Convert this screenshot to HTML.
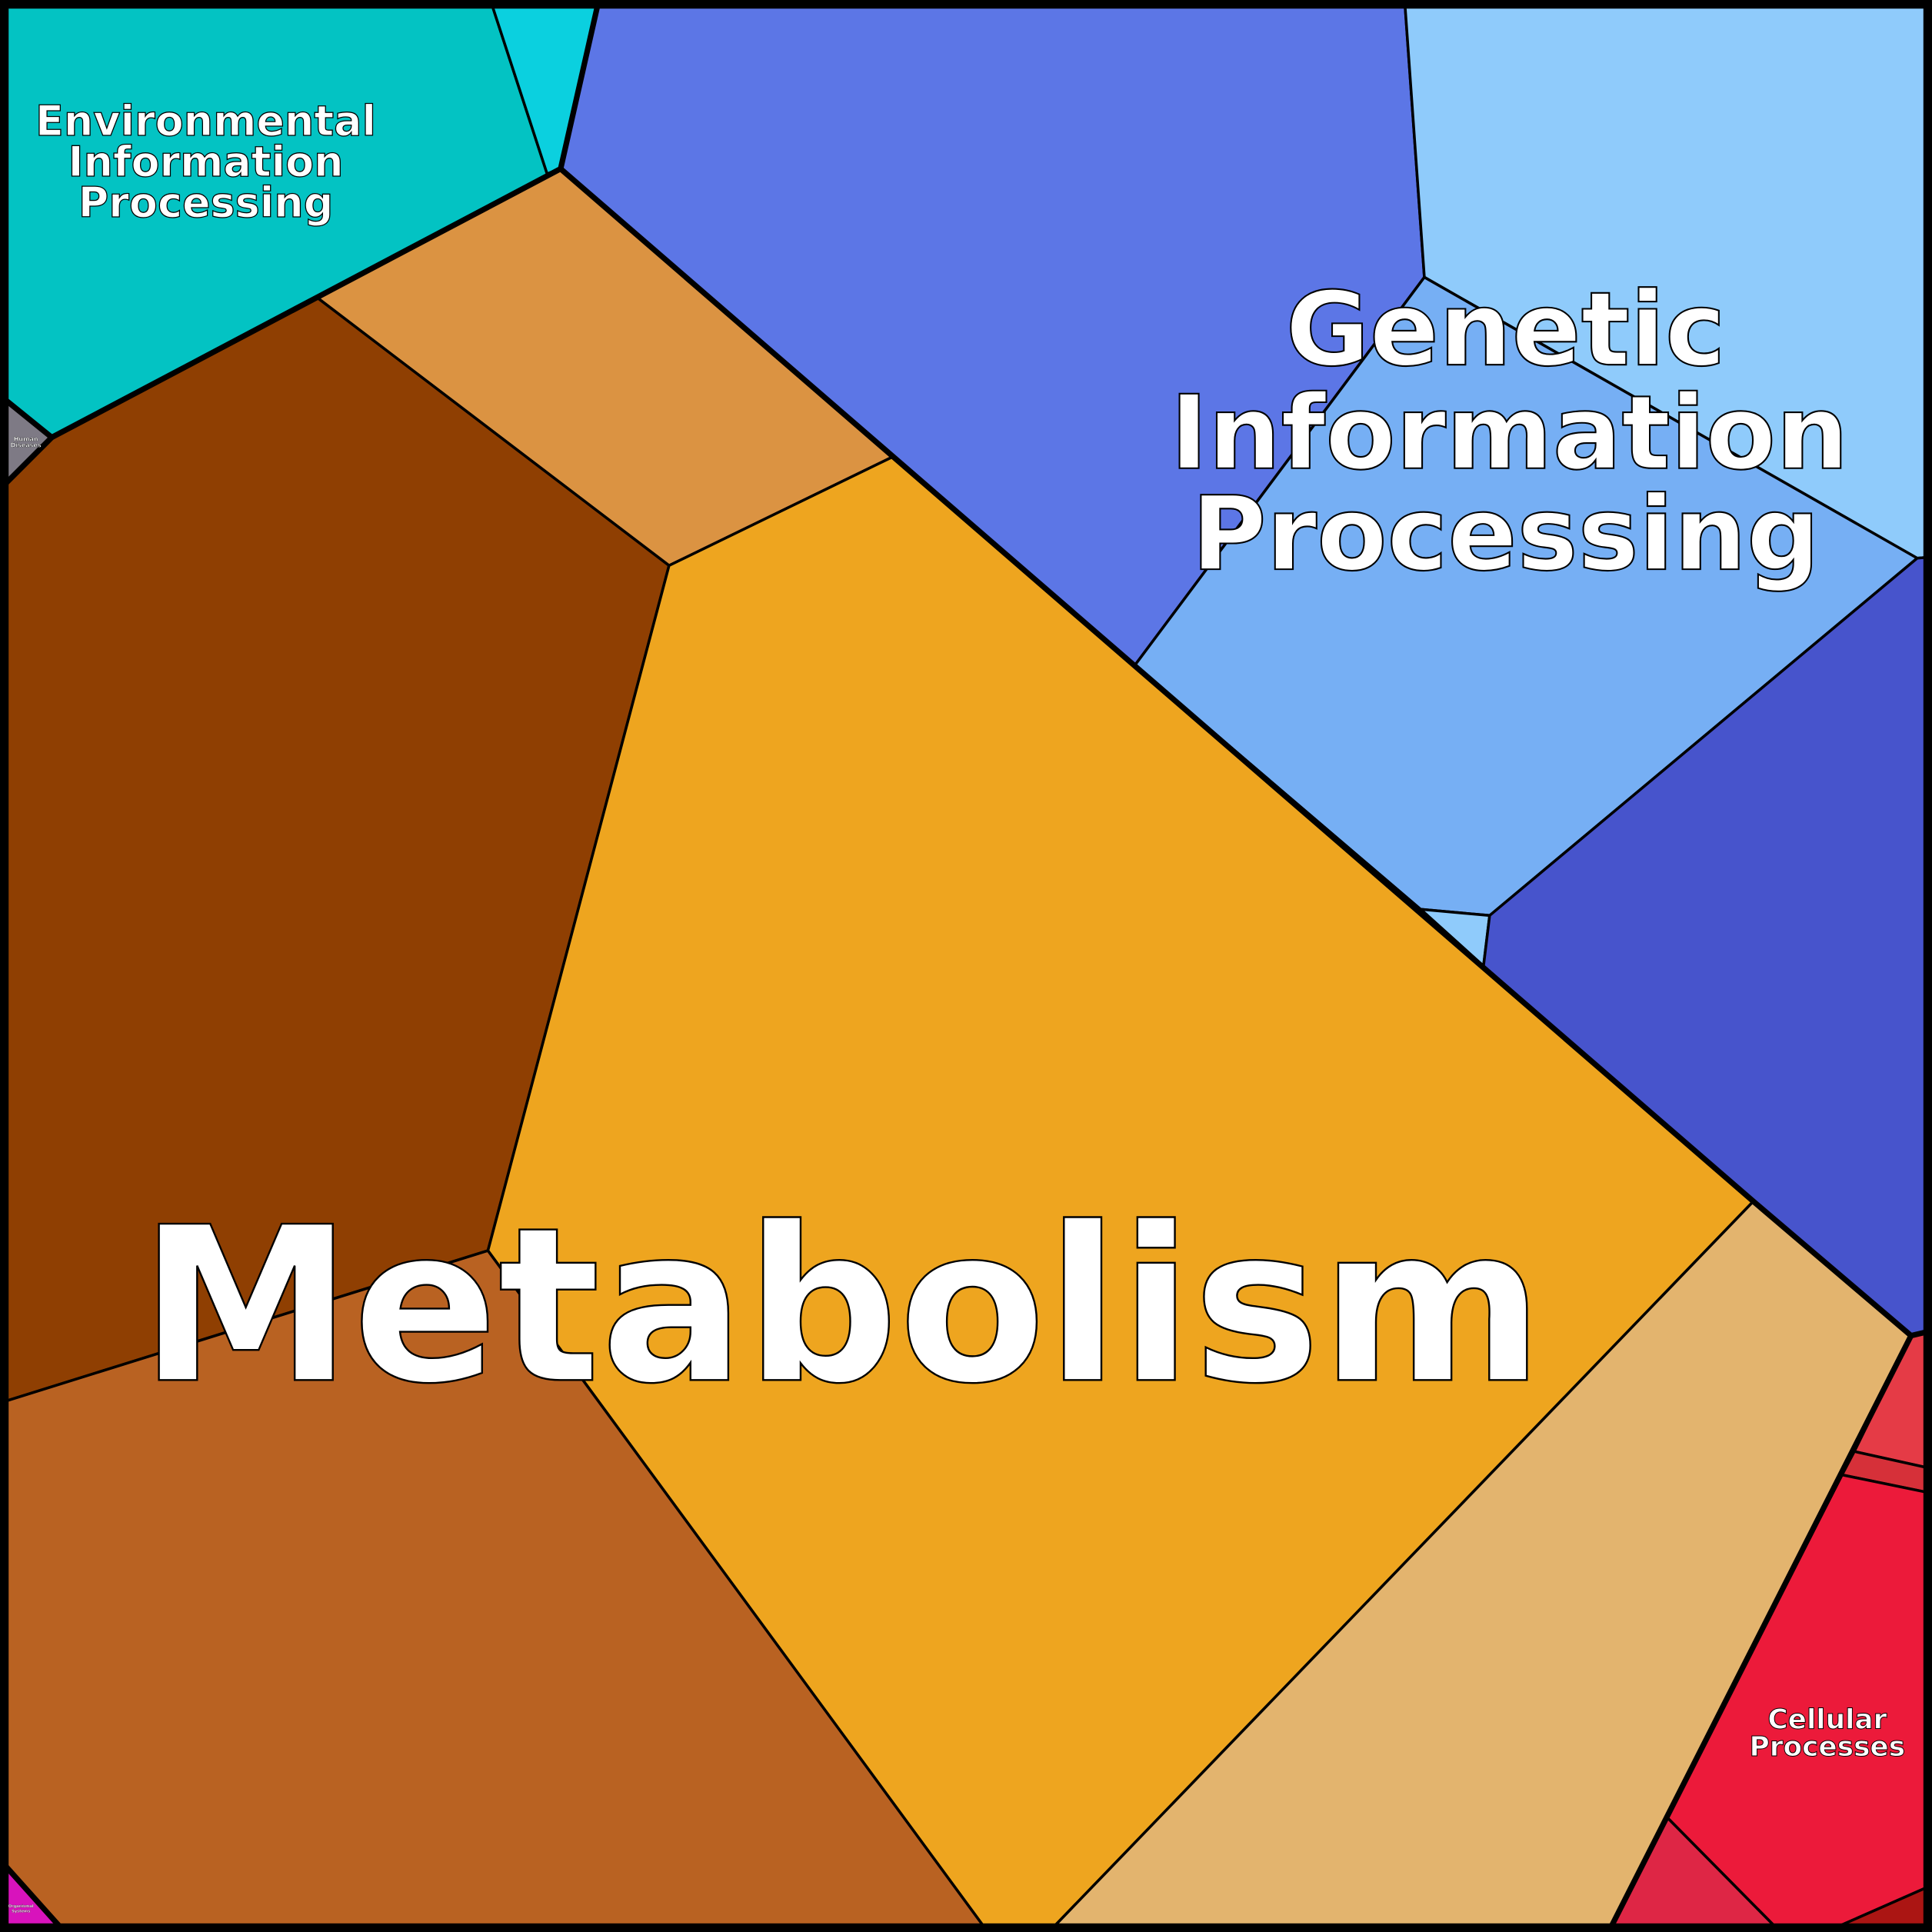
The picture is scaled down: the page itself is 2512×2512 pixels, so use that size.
<!DOCTYPE html>
<html><head><meta charset="utf-8"><style>html,body{margin:0;padding:0;background:#000}svg{display:block}</style></head><body>
<svg width="2512" height="2512" viewBox="0 0 1568 1568" xmlns="http://www.w3.org/2000/svg">
<g stroke="#000" stroke-width="2.2" stroke-linejoin="round">
<polygon fill="#03C3C3" points="0,0 398,0 444,141 455,137 258,242 42,355 5,325"/>
<polygon fill="#0BD0DF" points="398,0 486,0 455,137 444,141"/>
<polygon fill="#7E7A85" points="5,325 42,355 5,392"/>
<polygon fill="#5C76E6" points="486,0 1140,0 1156,225 921,540 724,371 455,137"/>
<polygon fill="#8FCBFB" points="1140,0 1568,0 1568,452 1556,453 1156,225"/>
<polygon fill="#76AFF4" points="1156,225 1556,453 1209,743 1153,738 921,540"/>
<polygon fill="#8FCBFB" points="1153,738 1209,743 1204,784"/>
<polygon fill="#4754CC" points="1556,453 1568,452 1568,1080 1551,1084 1423,975 1204,784 1209,743"/>
<polygon fill="#DB9342" points="455,137 724,371 543,459 258,242"/>
<polygon fill="#8F3F02" points="258,242 543,459 396,1015 5,1137 5,392 42,355"/>
<polygon fill="#EEA51F" points="724,371 921,540 1153,738 1204,784 1423,975 856,1563 798,1563 396,1015 543,459"/>
<polygon fill="#B96222" points="5,1137 396,1015 798,1563 48,1563 5,1515"/>
<polygon fill="#E3B46E" points="1423,975 1551,1084 1308,1563 856,1563"/>
<polygon fill="#D813BC" points="5,1515 48,1563 5,1563"/>
<polygon fill="#E53B46" points="1551,1084 1568,1080 1568,1192 1505,1178"/>
<polygon fill="#D63039" points="1505,1178 1568,1192 1568,1212 1495,1197"/>
<polygon fill="#EC1A3A" points="1495,1197 1568,1212 1568,1530 1493,1563 1440,1563 1353,1475"/>
<polygon fill="#DE2645" points="1353,1475 1440,1563 1308,1563"/>
<polygon fill="#AB1513" points="1493,1563 1568,1530 1568,1568"/>
</g>
<g fill="none" stroke="#000" stroke-width="4.5" stroke-linejoin="round">
<polyline points="5,325 42,355 455,137 486,0"/>
<polyline points="5,392 42,355"/>
<polyline points="455,137 1423,975 1551,1084 1568,1080"/>
<polyline points="1551,1084 1308,1563"/>
<polyline points="5,1515 48,1563"/>
</g>
<rect x="3.5" y="3.5" width="1561" height="1561" fill="none" stroke="#000" stroke-width="7"/>
<g font-family="'DejaVu Sans','Liberation Sans',sans-serif" font-weight="bold" fill="#fff" stroke="#000" text-anchor="middle">
<text x="683" y="1120" font-size="174" stroke-width="1.5">Metabolism</text>
<g font-size="83" stroke-width="1.3">
<text x="1222" y="296">Genetic</text>
<text x="1225" y="380">Information</text>
<text x="1222" y="462">Processing</text>
</g>
<g font-size="33.7" stroke-width="0.8">
<text x="167" y="110">Environmental</text>
<text x="167" y="143">Information</text>
<text x="167" y="176">Processing</text>
</g>
<g font-size="22.4" stroke-width="0.6">
<text x="1483" y="1403">Cellular</text>
<text x="1483" y="1425">Processes</text>
</g>
<g font-size="5" stroke-width="0.2">
<text x="21" y="358">Human</text>
<text x="21" y="363">Diseases</text>
</g>
<g font-size="3.2" stroke-width="0.1">
<text x="17" y="1548">Organismal</text>
<text x="17" y="1552">Systems</text>
</g>
</g>
</svg>
</body></html>
